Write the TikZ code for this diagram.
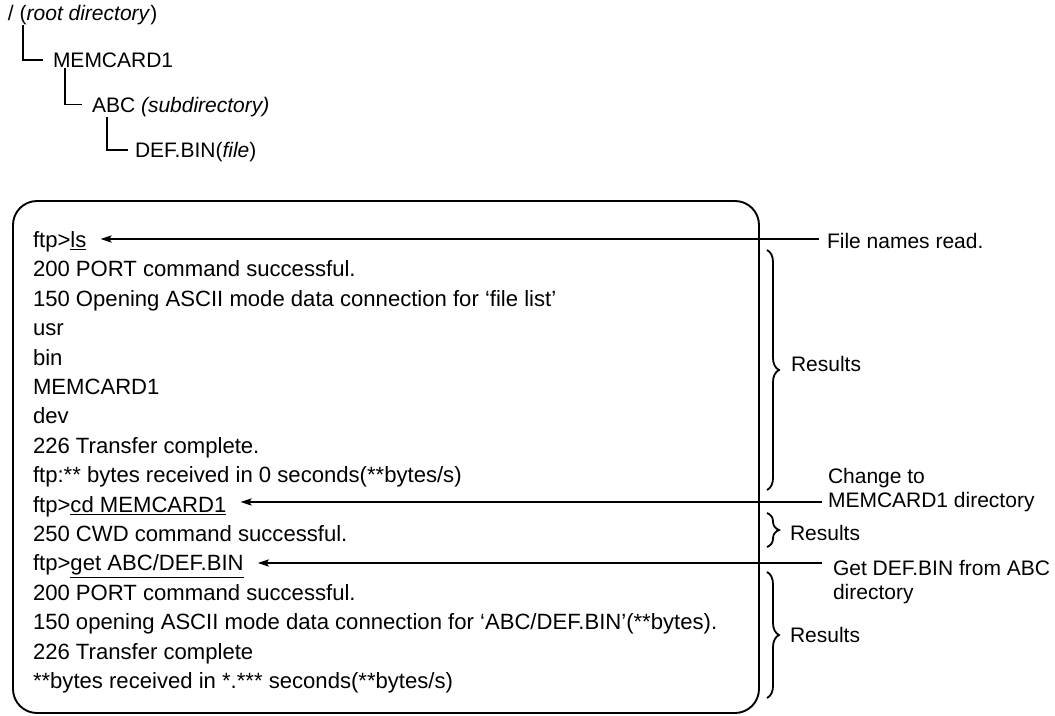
\documentclass[tikz,border=0pt]{standalone}
\usepackage{fontspec}
\setmainfont{Liberation Sans}
\usetikzlibrary{arrows.meta,decorations.pathreplacing}
\tikzset{
  txt/.style={anchor=base west,inner sep=0pt,outer sep=0pt},
  term/.style={txt,font=\fontsize{22.1}{24}\selectfont},
  lab/.style={anchor=west,inner sep=0pt,outer sep=0pt,align=left},
  treeline/.style={line width=1.8pt},
  arr/.style={line width=2.2pt,-{Stealth[length=11pt,width=7pt,inset=2pt]}},
  br/.style={line width=1.8pt,decorate,decoration={brace,amplitude=12pt}},
  termbox/.style={draw,line width=1.9pt,rounded corners=24pt,minimum width=746pt,minimum height=512pt,inner sep=0pt}
}
\begin{document}
\begin{tikzpicture}[x=1pt,y=-1pt,font=\fontsize{21}{24}\selectfont]
\useasboundingbox (0,0) rectangle (1055,715);
% directory tree
\node[txt] (r) at (8,20.5) {/ (\textit{root directory})};
\node[txt] (m) at (53,67.5) {MEMCARD1};
\node[txt] (a) at (92,112.5) {ABC \textit{(subdirectory)}};
\node[txt] (d) at (135,157.5) {DEF.BIN(\textit{file})};
\draw[treeline] ([xshift=15pt]r.south west) |- ([xshift=-10pt,yshift=7.5pt]m.base west);
\draw[treeline] ([xshift=12pt]m.south west) |- ([xshift=-10pt,yshift=8pt]a.base west);
\draw[treeline] ([xshift=15pt]a.south west) |- ([xshift=-7pt,yshift=7.5pt]d.base west);
% terminal box
\node[termbox] (term) at (386,457) {};
\node[term] (l0) at (33,247.5) {ftp>\underline{ls}};
\node[term] (l1) at (33,276.9) {200 PORT command successful.};
\node[term] (l2) at (33,306.3) {150 Opening ASCII mode data connection for ‘file list’};
\node[term] (l3) at (33,335.7) {usr};
\node[term] (l4) at (33,365.1) {bin};
\node[term] (l5) at (33,394.5) {MEMCARD1};
\node[term] (l6) at (33,423.9) {dev};
\node[term] (l7) at (33,453.3) {226 Transfer complete.};
\node[term] (l8) at (33,482.7) {ftp:** bytes received in 0 seconds(**bytes/s)};
\node[term] (l9) at (33,512.1) {ftp>\underline{cd MEMCARD1}};
\node[term] (l10) at (33,541.5) {250 CWD command successful.};
\node[term] (l11) at (33,570.9) {ftp>\underline{get ABC/DEF.BIN}};
\node[term] (l12) at (33,600.3) {200 PORT command successful.};
\node[term] (l13) at (33,629.7) {150 opening ASCII mode data connection for ‘ABC/DEF.BIN’(**bytes).};
\node[term] (l14) at (33,659.1) {226 Transfer complete};
\node[term] (l15) at (33,688.5) {**bytes received in *.*** seconds(**bytes/s)};
% right labels
\node[lab] (fnr) at (827,241) {File names read.};
\node[lab] (chg) at (828,490) {Change to\\MEMCARD1 directory};
\node[lab] (get) at (833,582) {Get DEF.BIN from ABC\\directory};
\node[lab] (res1) at (791,364) {Results};
\node[lab] (res2) at (790,533) {Results};
\node[lab] (res3) at (790,635) {Results};
% arrow start points
\coordinate (s1) at (819,239);
\coordinate (s2) at (822,502);
\coordinate (s3) at (822,563);
\draw[arr] (s1) -- ([xshift=14pt]l0.east |- s1);
\draw[arr] (s2) -- ([xshift=14pt]l9.east |- s2);
\draw[arr] (s3) -- ([xshift=14pt]l11.east |- s3);
% braces
\draw[br] (767,250) -- (767,490);
\draw[br] (767,513) -- (767,547);
\draw[br] (767,572) -- (767,698);
\end{tikzpicture}
\end{document}
